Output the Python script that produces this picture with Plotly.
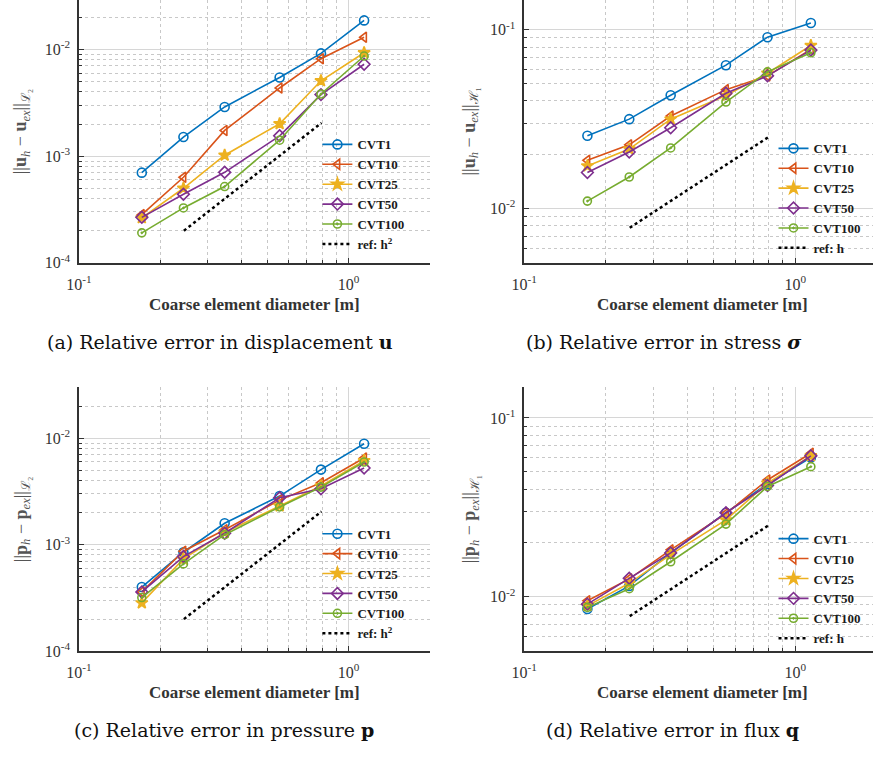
import plotly.graph_objects as go

# ---------------- data ----------------
diam = [0.171, 0.244, 0.347, 0.555, 0.790, 1.142]
series_names = ["CVT1", "CVT10", "CVT25", "CVT50", "CVT100"]

disp_cvt1 = [7.0e-4, 1.51e-3, 2.89e-3, 5.46e-3, 9.18e-3, 1.87e-2]
disp_cvt10 = [2.83e-4, 6.34e-4, 1.74e-3, 4.35e-3, 8.18e-3, 1.30e-2]
disp_cvt25 = [2.64e-4, 5.0e-4, 1.02e-3, 2.01e-3, 5.08e-3, 9.3e-3]
disp_cvt50 = [2.67e-4, 4.4e-4, 7.05e-4, 1.55e-3, 3.77e-3, 7.26e-3]
disp_cvt100 = [1.91e-4, 3.27e-4, 5.19e-4, 1.41e-3, 3.82e-3, 8.67e-3]

stress_cvt1 = [2.55e-2, 3.16e-2, 4.30e-2, 6.33e-2, 9.08e-2, 0.109]
stress_cvt10 = [1.86e-2, 2.27e-2, 3.29e-2, 4.62e-2, 5.52e-2, 7.76e-2]
stress_cvt25 = [1.73e-2, 2.15e-2, 3.16e-2, 4.28e-2, 5.71e-2, 8.16e-2]
stress_cvt50 = [1.59e-2, 2.07e-2, 2.83e-2, 4.41e-2, 5.52e-2, 7.69e-2]
stress_cvt100 = [1.10e-2, 1.50e-2, 2.18e-2, 3.94e-2, 5.81e-2, 7.43e-2]

pres_cvt1 = [4.0e-4, 8.49e-4, 1.59e-3, 2.86e-3, 5.07e-3, 8.85e-3]
pres_cvt10 = [3.6e-4, 8.67e-4, 1.38e-3, 2.62e-3, 3.81e-3, 6.51e-3]
pres_cvt25 = [2.84e-4, 7.35e-4, 1.30e-3, 2.31e-3, 3.55e-3, 6.15e-3]
pres_cvt50 = [3.6e-4, 7.73e-4, 1.28e-3, 2.76e-3, 3.35e-3, 5.25e-3]
pres_cvt100 = [3.19e-4, 6.6e-4, 1.24e-3, 2.26e-3, 3.47e-3, 5.97e-3]

flux_cvt1 = [8.55e-3, 1.15e-2, 1.76e-2, 2.95e-2, 4.28e-2, 6.01e-2]
flux_cvt10 = [9.5e-3, 1.26e-2, 1.83e-2, 2.92e-2, 4.50e-2, 6.35e-2]
flux_cvt25 = [8.9e-3, 1.19e-2, 1.72e-2, 2.69e-2, 4.32e-2, 6.14e-2]
flux_cvt50 = [9.1e-3, 1.27e-2, 1.76e-2, 2.95e-2, 4.19e-2, 6.14e-2]
flux_cvt100 = [8.73e-3, 1.11e-2, 1.57e-2, 2.55e-2, 4.14e-2, 5.34e-2]

ref_x = [0.245, 0.794]
ref_h2_y = [2.0e-4, 2.05e-3]
ref_h_y = [7.8e-3, 2.5e-2]

x_tick_vals = [0.1, 1]
x_tick_text = ["10<sup>-1</sup>", "10<sup>0</sup>"]

# ---------------- styling ----------------
colors = ["#0072BD", "#D95319", "#EDB120", "#7E2F8E", "#77AC30"]
symbols = ["circle-open", "triangle-left-open", "star", "diamond-open", "circle-open-dot"]
msizes = [9, 9, 9, 9, 8]
W, H = 873, 759
SERIF = "Liberation Serif"
AX = "#333333"

fig = go.Figure()

panels = [
    dict(data=[disp_cvt1, disp_cvt10, disp_cvt25, disp_cvt50, disp_cvt100],
         ref=ref_h2_y, refname="ref: h<sup>2</sup>"),
    dict(data=[stress_cvt1, stress_cvt10, stress_cvt25, stress_cvt50, stress_cvt100],
         ref=ref_h_y, refname="ref: h"),
    dict(data=[pres_cvt1, pres_cvt10, pres_cvt25, pres_cvt50, pres_cvt100],
         ref=ref_h2_y, refname="ref: h<sup>2</sup>"),
    dict(data=[flux_cvt1, flux_cvt10, flux_cvt25, flux_cvt50, flux_cvt100],
         ref=ref_h_y, refname="ref: h"),
]

# pixel geometry of each panel: (left, right, top, bottom)
geom = [(67, 423, 0, 266), (519, 873, 0, 266), (67, 423, 392, 659), (519, 873, 392, 659)]
xranges = [[-1, 0.301], [-1, 0.287], [-1, 0.301], [-1, 0.287]]
yranges = [[-4, -1.537], [-2.304, -0.834], [-4, -1.523], [-2.304, -0.829]]
ymajor = [[1e-4, 1e-3, 1e-2], [1e-2, 1e-1], [1e-4, 1e-3, 1e-2], [1e-2, 1e-1]]
ymajor_text = [["10<sup>-4</sup>", "10<sup>-3</sup>", "10<sup>-2</sup>"],
               ["10<sup>-2</sup>", "10<sup>-1</sup>"],
               ["10<sup>-4</sup>", "10<sup>-3</sup>", "10<sup>-2</sup>"],
               ["10<sup>-2</sup>", "10<sup>-1</sup>"]]
legend_pos = [(309, 131), (772, 135), (309, 525), (772, 530)]

def minor_vals(lo, hi):
    out = []
    e = int(lo) - 1
    while e <= int(hi) + 1:
        for m in range(2, 10):
            out.append(m * 10.0 ** e)
        e += 1
    return out

for i, p in enumerate(panels):
    k = "" if i == 0 else str(i + 1)
    xa, ya = "x" + k, "y" + k
    lg = "legend" + k
    for j, name in enumerate(series_names):
        fig.add_trace(go.Scatter(
            x=diam, y=p["data"][j], name=name, mode="lines+markers",
            xaxis=xa, yaxis=ya, legend=lg,
            line=dict(color=colors[j], width=1.6),
            marker=dict(symbol=symbols[j], size=msizes[j], color=colors[j],
                        line=dict(color=colors[j], width=1.6)),
        ))
    fig.add_trace(go.Scatter(
        x=ref_x, y=p["ref"], name=p["refname"], mode="lines",
        xaxis=xa, yaxis=ya, legend=lg,
        line=dict(color="black", width=2.5, dash="dot"),
    ))

    l, r, t, b = geom[i]
    common = dict(
        type="log", showline=True, linecolor=AX, linewidth=1.5, mirror=False,
        ticks="inside", ticklen=5, tickcolor=AX, tickwidth=1,
        showgrid=True, gridcolor="#d6d6d6", gridwidth=1, zeroline=False,
        tickfont=dict(family=SERIF, size=16, color="#333333"),
        tickmode="array",
    )
    fig.layout["xaxis" + k] = dict(
        common, domain=[l / W, r / W], range=xranges[i], anchor=ya,
        tickvals=x_tick_vals, ticktext=x_tick_text, ticklabelstandoff=6,
        minor=dict(tickmode="array", tickvals=[0.2, 0.3, 0.4, 0.5, 0.6, 0.7, 0.8, 0.9, 2],
                   ticks="inside", ticklen=3, tickcolor=AX, showgrid=True,
                   griddash="dot", gridcolor="#c8c8c8", gridwidth=1),
    )
    fig.layout["yaxis" + k] = dict(
        common, domain=[1 - b / H, 1 - t / H], range=yranges[i], anchor=xa,
        tickvals=ymajor[i], ticktext=ymajor_text[i], ticklabelstandoff=4,
        minor=dict(tickmode="array", tickvals=minor_vals(yranges[i][0], yranges[i][1]),
                   ticks="inside", ticklen=3, tickcolor=AX, showgrid=True,
                   griddash="dot", gridcolor="#c8c8c8", gridwidth=1),
    )
    lx, ly = legend_pos[i]
    fig.layout[lg] = dict(
        x=lx / W, y=1 - ly / H, xanchor="left", yanchor="top",
        xref="paper", yref="paper", bgcolor="rgba(0,0,0,0)", borderwidth=0,
        font=dict(family=SERIF, size=13, color="#1a1a1a", weight="bold"),
        tracegroupgap=0, itemwidth=30,
    )

ytitles = [
    "||<b>u</b><sub><i>h</i></sub> − <b>u</b><sub><i>ex</i></sub>||<sub>ℒ₂</sub>",
    "||<b>u</b><sub><i>h</i></sub> − <b>u</b><sub><i>ex</i></sub>||<sub>ℋ₁</sub>",
    "||<b>p</b><sub><i>h</i></sub> − <b>p</b><sub><i>ex</i></sub>||<sub>ℒ₂</sub>",
    "||<b>p</b><sub><i>h</i></sub> − <b>p</b><sub><i>ex</i></sub>||<sub>ℋ₁</sub>",
]
captions = [
    "(a) Relative error in displacement <b>u</b>",
    "(b) Relative error in stress <b><i>σ</i></b>",
    "(c) Relative error in pressure <b>p</b>",
    "(d) Relative error in flux <b>q</b>",
]
ytitle_x = [9, 464, 9, 464]
xtitle_cx = [245, 700, 245, 700]
xtitle_y = [308, 308, 701, 701]
cap_cx = [210, 661, 214, 669]
cap_y = [346, 346, 739, 739]

ann = []
for i in range(4):
    l, r, t, b = geom[i]
    ann.append(dict(text=ytitles[i], x=ytitle_x[i] / W, y=1 - ((t + b) / 2) / H,
                    xref="paper", yref="paper", textangle=-90, showarrow=False,
                    xanchor="center", yanchor="middle",
                    font=dict(family=SERIF, size=18, color="#555555")))
    ann.append(dict(text="Coarse element diameter [m]", x=xtitle_cx[i] / W, y=1 - xtitle_y[i] / H,
                    xref="paper", yref="paper", showarrow=False,
                    xanchor="center", yanchor="middle",
                    font=dict(family=SERIF, size=17, color="#333333", weight="bold")))
    ann.append(dict(text=captions[i], x=cap_cx[i] / W, y=1 - cap_y[i] / H,
                    xref="paper", yref="paper", showarrow=False,
                    xanchor="center", yanchor="middle",
                    font=dict(family="DejaVu Serif", size=19, color="#111111")))

fig.update_layout(
    width=W, height=H, margin=dict(l=0, r=0, t=0, b=0),
    paper_bgcolor="white", plot_bgcolor="white",
    annotations=ann, showlegend=True,
)

fig.write_html("out.html")
